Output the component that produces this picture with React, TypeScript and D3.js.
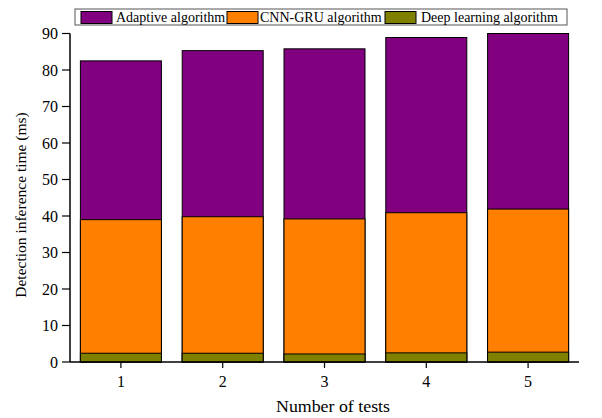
import React from "react";
import * as d3 from "d3";

const tests = [1, 2, 3, 4, 5];
const adaptive = [82.5, 85.3, 85.8, 88.9, 90.0];
const cnnGru = [39.0, 39.8, 39.2, 40.9, 41.9];
const deepLearning = [2.4, 2.4, 2.2, 2.5, 2.7];
const yTicks = [0, 10, 20, 30, 40, 50, 60, 70, 80, 90];
const seriesNames = ["Adaptive algorithm", "CNN-GRU algorithm", "Deep learning algorithm"];
const seriesColors = ["#800080", "#FF8000", "#808000"];

export default function App() {
  const W = 602, H = 418;
  const x = d3.scaleLinear().domain([0.5, 5.5]).range([70, 579]);
  const y = d3.scaleLinear().domain([0, 90]).range([362, 33.5]);
  const barW = 81;
  const series = [adaptive, cnnGru, deepLearning];
  const font = '"Liberation Serif", "Times New Roman", serif';
  const legendItems = [
    { sx: 81, tx: 116 },
    { sx: 227, tx: 260 },
    { sx: 385, tx: 421 },
  ];
  return (
    <svg width={W} height={H} style={{ position: "absolute", left: 0, top: 0, fontFamily: font }}>
      <rect width={W} height={H} fill="#fff" />
      {series.map((vals, si) =>
        vals.map((v, i) => (
          <rect
            key={`${si}-${i}`}
            x={x(tests[i]) - barW / 2}
            y={y(v)}
            width={barW}
            height={y(0) - y(v)}
            fill={seriesColors[si]}
            stroke="#000"
            strokeWidth={1}
          />
        ))
      )}
      <line x1={70} x2={70} y1={y(0)} y2={y(90)} stroke="#000" strokeWidth={1.5} />
      {yTicks.map((t) => (
        <g key={t}>
          <line x1={62} x2={70} y1={y(t)} y2={y(t)} stroke="#000" strokeWidth={1.2} />
          <text x={58} y={y(t)} dy="0.35em" textAnchor="end" fontSize={16} style={{ fontFamily: font }}>{t}</text>
        </g>
      ))}
      <line x1={70} x2={579} y1={y(0)} y2={y(0)} stroke="#000" strokeWidth={1.5} />
      {tests.map((t) => (
        <g key={t}>
          <line x1={x(t)} x2={x(t)} y1={y(0)} y2={y(0) + 6} stroke="#000" strokeWidth={1.2} />
          <text x={x(t)} y={381} dy="0.35em" textAnchor="middle" fontSize={16} style={{ fontFamily: font }}>{t}</text>
        </g>
      ))}
      <text x={333} y={406} dy="0.35em" textAnchor="middle" fontSize={16.5} textLength={114} lengthAdjust="spacingAndGlyphs" style={{ fontFamily: font }}>Number of tests</text>
      <text
        transform={`translate(21,205) rotate(-90)`}
        dy="0.35em"
        textAnchor="middle"
        fontSize={15.5}
        style={{ fontFamily: font }}
      >
        Detection inference time (ms)
      </text>
      <rect x={75} y={9} width={492} height={16} fill="#fff" stroke="#555" strokeWidth={1} />
      {seriesNames.map((n, i) => (
        <g key={n}>
          <rect x={legendItems[i].sx} y={11.5} width={31} height={12} fill={seriesColors[i]} stroke="#000" strokeWidth={1} />
          <text x={legendItems[i].tx} y={17.5} dy="0.35em" fontSize={14} style={{ fontFamily: font }}>{n}</text>
        </g>
      ))}
    </svg>
  );
}
